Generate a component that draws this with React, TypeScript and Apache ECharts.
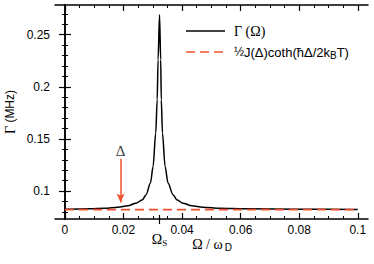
import React, { useEffect, useRef } from "react";
import * as echarts from "echarts";

// Γ(Ω) curve
const gammaX = [0, 0.0085, 0.0137, 0.0181, 0.0215, 0.0242, 0.0265, 0.0277, 0.0292, 0.0301, 0.031, 0.0315, 0.0318, 0.0323, 0.0327, 0.0329, 0.0333, 0.0342, 0.0352, 0.0369, 0.0382, 0.0403, 0.0433, 0.0471, 0.0529, 0.0614, 0.0802, 0.1];
const gammaY = [0.0825, 0.083, 0.0835, 0.0845, 0.0859, 0.0883, 0.0917, 0.0965, 0.1077, 0.1236, 0.1556, 0.1875, 0.2258, 0.269, 0.2258, 0.1875, 0.1556, 0.1236, 0.1077, 0.0965, 0.0917, 0.0883, 0.0859, 0.0845, 0.0835, 0.083, 0.0825, 0.0823];

// constant 1/2 J(Δ) coth(ħΔ/2kBT)
const baseX = [0, 0.1];
const baseY = [0.0822, 0.0822];

// Δ arrow
const arrowX = 0.019;
const arrowTop = 0.131;
const arrowTip = 0.0891;
const deltaLabelY = 0.1386;

// Ωs marker
const omegaS = 0.0323;

// axes
const xMin = -0.0034;
const xMax = 0.1035;
const yMin = 0.0732;
const yMax = 0.2784;
const xTicks = [0, 0.02, 0.04, 0.06, 0.08, 0.1];
const xTickLabels = ["0", "0.02", "0.04", "0.06", "0.08", "0.1"];
const xMinorTicks = [0.005, 0.01, 0.015, 0.025, 0.03, 0.035, 0.045, 0.05, 0.055, 0.065, 0.07, 0.075, 0.085, 0.09, 0.095];
const yTicks = [0.1, 0.15, 0.2, 0.25];
const yTickLabels = ["0.1", "0.15", "0.2", "0.25"];
const yMinorTicks = [0.08, 0.09, 0.11, 0.12, 0.13, 0.14, 0.16, 0.17, 0.18, 0.19, 0.21, 0.22, 0.23, 0.24, 0.26, 0.27];

const RED = "#f0502e";
const SANS = "Liberation Sans";
const SERIF = "Liberation Serif";

function labelFor(values: number[], labels: string[]) {
  return (v: number) => {
    for (let i = 0; i < values.length; i++) {
      if (Math.abs(values[i] - v) < 1e-9) return labels[i];
    }
    return "";
  };
}

export default function App() {
  const ref = useRef<HTMLDivElement>(null);
  useEffect(() => {
    if (!ref.current) return;
    const chart = echarts.init(ref.current, undefined, { renderer: "svg" });

    const baseX0 = {
      type: "value",
      min: xMin,
      max: xMax,
      splitLine: { show: false },
      axisPointer: { show: false },
    };
    const baseY0 = {
      type: "value",
      min: yMin,
      max: yMax,
      splitLine: { show: false },
    };
    const line = { show: true, lineStyle: { color: "#000", width: 1.5 } };
    const noLine = { show: false };
    const noLabel = { show: false };

    const option: any = {
      animation: false,
      grid: { left: 55, right: 6, top: 5, bottom: 45 },
      xAxis: [
        {
          ...baseX0,
          position: "bottom",
          axisLine: line,
          axisTick: { show: true, inside: true, length: 6, customValues: xTicks, lineStyle: { color: "#000", width: 1.2 } },
          axisLabel: {
            show: true,
            customValues: xTicks,
            formatter: labelFor(xTicks, xTickLabels),
            color: "#000",
            fontFamily: SANS,
            fontSize: 12,
            margin: 5,
          },
        },
        {
          ...baseX0,
          position: "bottom",
          axisLine: noLine,
          axisTick: { show: true, inside: true, length: 3, customValues: xMinorTicks, lineStyle: { color: "#000", width: 1 } },
          axisLabel: noLabel,
        },
        {
          ...baseX0,
          position: "top",
          axisLine: line,
          axisTick: { show: true, inside: true, length: 6, customValues: xTicks, lineStyle: { color: "#000", width: 1.2 } },
          axisLabel: noLabel,
        },
        {
          ...baseX0,
          position: "top",
          axisLine: noLine,
          axisTick: { show: true, inside: true, length: 3, customValues: xMinorTicks, lineStyle: { color: "#000", width: 1 } },
          axisLabel: noLabel,
        },
        {
          ...baseX0,
          position: "bottom",
          axisLine: noLine,
          axisTick: { show: true, inside: true, length: 4, customValues: [omegaS], lineStyle: { color: "#000", width: 1.2 } },
          axisLabel: noLabel,
        },
        {
          ...baseX0,
          position: "bottom",
          axisLine: noLine,
          axisTick: { show: true, inside: false, length: 5, customValues: [omegaS], lineStyle: { color: "#000", width: 1.2 } },
          axisLabel: {
            show: true,
            customValues: [omegaS],
            margin: 12,
            formatter: () => "{o|Ω}{s|S}",
            rich: {
              o: { fontFamily: SERIF, fontSize: 14, color: "#000", lineHeight: 16 },
              s: { fontFamily: SERIF, fontSize: 9, color: "#000", lineHeight: 9, verticalAlign: "bottom", padding: [6, 0, 0, 0] },
            },
          },
        },
      ],
      yAxis: [
        {
          ...baseY0,
          position: "left",
          axisLine: line,
          axisTick: { show: true, inside: true, length: 6, customValues: yTicks, lineStyle: { color: "#000", width: 1.2 } },
          axisLabel: {
            show: true,
            customValues: yTicks,
            formatter: labelFor(yTicks, yTickLabels),
            color: "#000",
            fontFamily: SANS,
            fontSize: 12,
            margin: 5,
          },
        },
        {
          ...baseY0,
          position: "left",
          axisLine: noLine,
          axisTick: { show: true, inside: true, length: 3, customValues: yMinorTicks, lineStyle: { color: "#000", width: 1 } },
          axisLabel: noLabel,
        },
        {
          ...baseY0,
          position: "right",
          axisLine: line,
          axisTick: { show: true, inside: true, length: 6, customValues: yTicks, lineStyle: { color: "#000", width: 1.2 } },
          axisLabel: noLabel,
        },
        {
          ...baseY0,
          position: "right",
          axisLine: noLine,
          axisTick: { show: true, inside: true, length: 3, customValues: yMinorTicks, lineStyle: { color: "#000", width: 1 } },
          axisLabel: noLabel,
        },
      ],
      series: [
        {
          type: "line",
          xAxisIndex: 0,
          yAxisIndex: 0,
          data: gammaX.map((x, i) => [x, gammaY[i]]),
          symbol: "none",
          smooth: 0.3,
          smoothMonotone: "x",
          lineStyle: { color: "#000", width: 1.5 },
          z: 2,
        },
        {
          type: "line",
          xAxisIndex: 0,
          yAxisIndex: 0,
          data: baseX.map((x, i) => [x, baseY[i]]),
          symbol: "none",
          lineStyle: { color: RED, width: 1.6, type: [9, 5] },
          z: 3,
        },
        {
          type: "scatter",
          xAxisIndex: 0,
          yAxisIndex: 0,
          data: [[arrowX, deltaLabelY]],
          symbolSize: 0,
          silent: true,
          label: {
            show: true,
            position: "inside",
            formatter: "Δ",
            fontFamily: SERIF,
            fontSize: 15,
            color: "#000",
          },
          markLine: {
            silent: true,
            symbol: ["none", "arrow"],
            symbolSize: [6, 9],
            label: { show: false },
            lineStyle: { color: RED, width: 1.5, type: "solid" },
            emphasis: { disabled: true },
            data: [[{ coord: [arrowX, arrowTop] }, { coord: [arrowX, arrowTip] }]],
          },
          z: 4,
        },
      ],
      graphic: [
        {
          type: "line",
          shape: { x1: 186, y1: 31, x2: 225, y2: 31 },
          style: { stroke: "#000", lineWidth: 1.5 },
        },
        {
          type: "text",
          x: 234,
          y: 31,
          style: {
            text: "{g|Γ (Ω)}",
            rich: { g: { fontFamily: SERIF, fontSize: 14, fill: "#000" } },
            verticalAlign: "middle",
            align: "left",
          },
        },
        {
          type: "line",
          shape: { x1: 186, y1: 52, x2: 225, y2: 52 },
          style: { stroke: RED, lineWidth: 1.6, lineDash: [9, 5] },
        },
        {
          type: "text",
          x: 234,
          y: 52,
          style: {
            text: "{f|½}{t|J(Δ)coth(ħΔ/2k}{s|B}{t|T)}",
            rich: {
              f: { fontFamily: SANS, fontSize: 12, fill: "#000", lineHeight: 16 },
              t: { fontFamily: SANS, fontSize: 13, fill: "#000", lineHeight: 16 },
              s: { fontFamily: SANS, fontSize: 10, fill: "#000", lineHeight: 10, verticalAlign: "bottom", padding: [6, 0, 0, 0] },
            },
            verticalAlign: "middle",
            align: "left",
          },
        },
        {
          type: "text",
          x: 10,
          y: 112,
          rotation: Math.PI / 2,
          style: {
            text: "{g|Γ}{m| (MHz)}",
            rich: {
              g: { fontFamily: SERIF, fontSize: 14, fill: "#000" },
              m: { fontFamily: SANS, fontSize: 12, fill: "#000" },
            },
            align: "center",
            verticalAlign: "middle",
          },
        },
        {
          type: "text",
          x: 212,
          y: 244,
          style: {
            text: "{g|Ω / ω}{s|D}",
            rich: {
              g: { fontFamily: SERIF, fontSize: 14, fill: "#000", lineHeight: 16 },
              s: { fontFamily: SANS, fontSize: 10, fill: "#000", lineHeight: 10, verticalAlign: "bottom", padding: [7, 0, 0, 2] },
            },
            align: "center",
            verticalAlign: "middle",
          },
        },
      ],
    };
    chart.setOption(option);
    return () => chart.dispose();
  }, []);
  return (
    <div
      ref={ref}
      style={{ position: "fixed", left: 0, top: 0, width: 374, height: 264, background: "#fff" }}
    />
  );
}
